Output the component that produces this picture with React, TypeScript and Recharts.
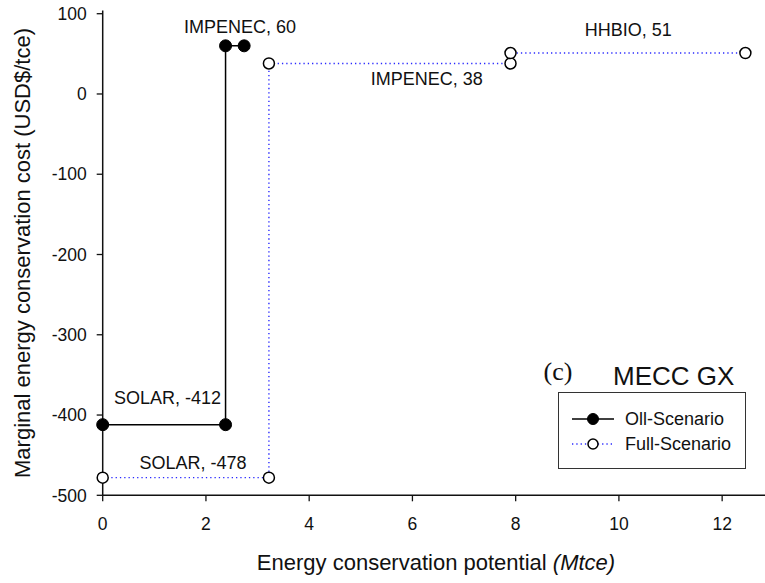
import { LineChart, Line, XAxis, YAxis, Legend, ReferenceDot, Label } from "recharts";

const FONT = '"Liberation Sans", Arial, sans-serif';
const INK = "#111";

// step curves (x in Mtce, y in USD$/tce)
const OLL_X = [0, 2.38, 2.38, 2.74];
const OLL_Y = [-412, -412, 60, 60];
const FULL_X = [0, 3.22, 3.22, 7.9, 7.9, 12.45];
const FULL_Y = [-478, -478, 38, 38, 51, 51];

const X_TICKS = [0, 2, 4, 6, 8, 10, 12];
const Y_TICKS = [-500, -400, -300, -200, -100, 0, 100];

const NOTES = ["IMPENEC, 60", "HHBIO, 51", "IMPENEC, 38", "SOLAR, -412", "SOLAR, -478"];
const NOTE_X = [2.66, 10.18, 6.28, 1.255, 1.75];
const NOTE_Y = [84, 80, 19, -378, -459];

const oll = OLL_X.map((x, i) => ({ x, y: OLL_Y[i] }));
const full = FULL_X.map((x, i) => ({ x, y: FULL_Y[i] }));

const SERIES = [
  { key: "oll", name: "Oll-Scenario", data: oll, stroke: "#000", dash: undefined, width: 1.5,
    dot: { r: 6, fill: "#000", stroke: "#000", strokeWidth: 1, strokeDasharray: "none" } },
  { key: "full", name: "Full-Scenario", data: full, stroke: "#2a2aff", dash: "1.3 3", width: 1.4,
    dot: { r: 5.5, fill: "#fff", stroke: "#000", strokeWidth: 1.5, strokeDasharray: "none" } },
];

const tickStyle = { fill: INK, fontSize: 17.5, fontFamily: FONT };

function YTitle() {
  return (
    <text x={22} y={253} transform="rotate(-90 22 253)" textAnchor="middle" dominantBaseline="central"
      fill={INK} fontSize={22} fontFamily={FONT}>
      Marginal energy conservation cost (USD$/tce)
    </text>
  );
}

function XTitle() {
  return (
    <text x={436} y={570} textAnchor="middle" fill={INK} fontSize={22} fontFamily={FONT}>
      Energy conservation potential <tspan fontStyle="italic">(Mtce)</tspan>
    </text>
  );
}

function LegendBox() {
  return (
    <div style={{ boxSizing: "border-box", width: 188, height: 77, border: "1.5px solid #333", background: "#fff",
      position: "relative", fontFamily: FONT, fontSize: 18, color: INK }}>
      {SERIES.map((s, i) => (
        <div key={s.key} style={{ position: "absolute", left: 12, top: 14 + i * 25, height: 24, display: "flex", alignItems: "center" }}>
          <svg width={44} height={16} style={{ display: "block" }}>
            <line x1={1} x2={43} y1={8} y2={8} stroke={s.stroke} strokeWidth={s.width} strokeDasharray={s.dash} />
            <circle cx={22} cy={8} r={s.dot.r - 0.5} fill={s.dot.fill} stroke={s.dot.stroke} strokeWidth={s.dot.strokeWidth} />
          </svg>
          <span style={{ marginLeft: 10, lineHeight: "24px" }}>{s.name}</span>
        </div>
      ))}
    </div>
  );
}

export default function App() {
  return (
    <div style={{ position: "absolute", left: 0, top: 0, width: 765, height: 583, background: "#fff" }}>
      <LineChart width={765} height={583} margin={{ top: 10.5, right: 0, bottom: 47.7, left: 0 }}>
        <XAxis xAxisId="top" orientation="top" type="number" domain={[0, 12.83]} height={0}
          tick={false} tickLine={false} axisLine={{ stroke: INK, strokeWidth: 1.5 }} />
        <XAxis dataKey="x" type="number" domain={[0, 12.83]} ticks={X_TICKS} height={40}
          axisLine={{ stroke: INK, strokeWidth: 1.5 }} tickLine={{ stroke: INK, strokeWidth: 1.3 }}
          tickSize={6} tickMargin={16} tick={tickStyle}>
          <Label content={<XTitle />} />
        </XAxis>
        <YAxis type="number" domain={[-500, 104]} ticks={Y_TICKS} width={102.7}
          axisLine={{ stroke: INK, strokeWidth: 1.5 }} tickLine={{ stroke: INK, strokeWidth: 1.3 }}
          tickSize={6} tickMargin={10} tick={tickStyle}>
          <Label content={<YTitle />} />
        </YAxis>
        {NOTES.map((t, i) => (
          <ReferenceDot key={t} x={NOTE_X[i]} y={NOTE_Y[i]} r={0} fill="none" stroke="none" ifOverflow="visible"
            label={{ value: t, position: "center", fill: INK, fontSize: 18, fontFamily: FONT }} />
        ))}
        {SERIES.slice().reverse().map((s) => (
          <Line key={s.key} data={s.data} dataKey="y" name={s.name} type="linear"
            stroke={s.stroke} strokeWidth={s.width} strokeDasharray={s.dash}
            dot={s.dot} activeDot={false} isAnimationActive={false} />
        ))}
        <Legend content={<LegendBox />} verticalAlign="middle" align="center" layout="horizontal"
          wrapperStyle={{ left: 558, top: 392, width: 188, height: 77 }} />
      </LineChart>
      <svg width={765} height={583} style={{ position: "absolute", left: 0, top: 0, pointerEvents: "none" }}>
        <text x={558} y={380} textAnchor="middle" fontSize={26} fontFamily='"Liberation Serif", "Times New Roman", serif' fill={INK}>(c)</text>
        <text x={613} y={385} fontSize={26} fontFamily={FONT} fill={INK}>MECC GX</text>
      </svg>
    </div>
  );
}
